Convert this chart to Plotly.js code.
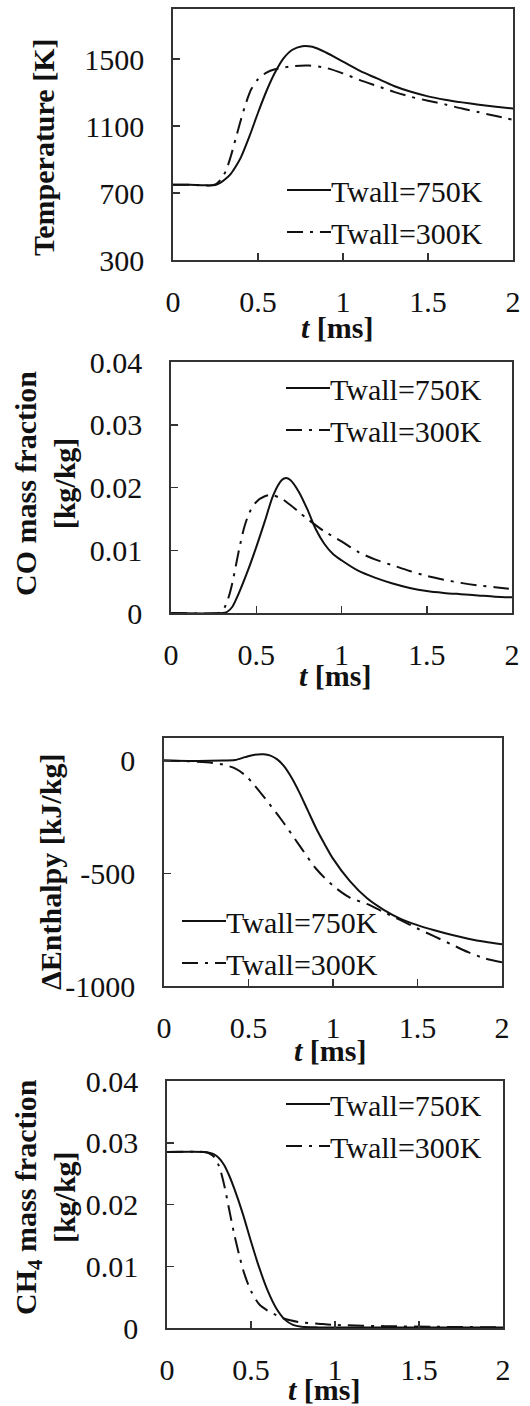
<!DOCTYPE html>
<html>
<head>
<meta charset="utf-8">
<script src="https://cdn.plot.ly/plotly-3.0.1.min.js"></script>
<style>html,body{margin:0;padding:0;background:#fff;}#chart{width:530px;height:1406px;}</style>
</head>
<body>
<div id="chart"></div>
<script>
// ---------- data ----------
const seriesNames = ["Twall=750K", "Twall=300K"];
const xTickVals = [0, 0.5, 1, 1.5, 2];

// Panel 1: Temperature [K]
const tTemp750 = [0,0.1,0.2,0.25,0.28,0.31,0.34,0.37,0.40,0.45,0.5,0.55,0.6,0.65,0.7,0.76,0.82,0.9,1.0,1.1,1.2,1.3,1.4,1.5,1.6,1.7,1.8,1.9,2.0];
const temp750  = [750,750,746,748,762,785,815,860,915,1040,1180,1310,1420,1505,1555,1578,1574,1540,1485,1430,1385,1340,1305,1278,1258,1242,1228,1216,1205];
const tTemp300 = [0,0.1,0.2,0.25,0.28,0.31,0.34,0.37,0.4,0.43,0.46,0.5,0.55,0.6,0.7,0.8,0.9,1.0,1.1,1.2,1.3,1.4,1.5,1.6,1.7,1.8,1.9,2.0];
const temp300  = [750,750,745,752,780,830,920,1030,1140,1240,1320,1380,1420,1440,1458,1462,1448,1415,1375,1340,1305,1275,1252,1230,1205,1183,1160,1138];
const tempTicks = [300, 700, 1100, 1500];
const tempTickText = ["300", "700", "1100", "1500"];

// Panel 2: CO mass fraction [kg/kg]
const tCO750 = [0,0.3,0.33,0.36,0.4,0.45,0.5,0.55,0.6,0.65,0.675,0.7,0.75,0.8,0.85,0.9,0.95,1.0,1.1,1.2,1.3,1.4,1.5,1.6,1.7,1.8,1.9,2.0];
const co750  = [0,0,0.0002,0.001,0.0033,0.0067,0.0105,0.0146,0.0188,0.0212,0.0215,0.0212,0.0193,0.0165,0.0133,0.0110,0.0094,0.0084,0.0067,0.0056,0.0047,0.0040,0.0035,0.0032,0.0030,0.0028,0.0026,0.0025];
const tCO300 = [0,0.28,0.3,0.32,0.34,0.36,0.38,0.4,0.43,0.46,0.5,0.55,0.59,0.65,0.7,0.75,0.8,0.9,1.0,1.1,1.2,1.3,1.4,1.5,1.6,1.7,1.8,1.9,2.0];
const co300  = [0,0,0.0002,0.0012,0.0027,0.0048,0.0075,0.0102,0.0137,0.0160,0.0177,0.0186,0.0188,0.0182,0.0172,0.0161,0.0150,0.0130,0.0114,0.0097,0.0085,0.0076,0.0067,0.0059,0.0053,0.0048,0.0044,0.0041,0.0038];
const fracTicks = [0, 0.01, 0.02, 0.03, 0.04];
const fracTickText = ["0", "0.01", "0.02", "0.03", "0.04"];

// Panel 3: ΔEnthalpy [kJ/kg]
const tH750 = [0,0.2,0.35,0.42,0.48,0.53,0.59,0.63,0.67,0.71,0.75,0.8,0.85,0.9,0.95,1.0,1.1,1.2,1.3,1.4,1.5,1.6,1.7,1.8,1.9,2.0];
const h750  = [0,-2,0,2,15,25,28,22,5,-25,-70,-140,-220,-300,-370,-435,-535,-610,-662,-702,-730,-753,-773,-790,-804,-815];
const tH300 = [0,0.15,0.25,0.35,0.42,0.48,0.53,0.6,0.7,0.8,0.9,1.0,1.1,1.2,1.3,1.4,1.5,1.6,1.7,1.8,1.9,2.0];
const h300  = [0,-3,-8,-18,-35,-65,-105,-170,-268,-375,-480,-555,-608,-636,-672,-708,-745,-780,-815,-850,-878,-895];
const hTicks = [-1000, -500, 0];
const hTickText = ["-1000", "-500", "0"];

// Panel 4: CH4 mass fraction [kg/kg]
const tCH750 = [0,0.22,0.25,0.28,0.31,0.34,0.37,0.4,0.45,0.5,0.55,0.6,0.65,0.7,0.75,0.8,0.9,1.0,1.5,2.0];
const ch750  = [0.0285,0.0285,0.0284,0.0281,0.0275,0.0264,0.0247,0.0226,0.0186,0.0140,0.0097,0.0060,0.0032,0.0014,0.0005,0.0002,0.0001,0.0001,0.0001,0.0001];
const tCH300 = [0,0.22,0.25,0.28,0.31,0.34,0.37,0.4,0.43,0.46,0.5,0.55,0.6,0.65,0.7,0.8,0.9,1.0,1.3,1.6,2.0];
const ch300  = [0.0285,0.0285,0.0283,0.0277,0.0262,0.0232,0.0192,0.0152,0.0118,0.0088,0.0060,0.0038,0.0028,0.0021,0.0015,0.0009,0.0007,0.0005,0.0003,0.0002,0.0001];

// ---------- styling / layout ----------
const W = 530, H = 1406;
const FONT = "Liberation Serif";
const INK = "#111111";
const AXC = "#333333";
const DASHDOT = "16px,7px,3px,7px";

function xd(a, b) { return [a / W, b / W]; }
function yd(top, bottom) { return [1 - bottom / H, 1 - top / H]; }

const panels = [
  {box: [173, 513, 9, 260],   yr: [300, 1800],  yt: tempTicks, ytt: tempTickText, data: [[tTemp750, temp750], [tTemp300, temp300]], leg: [281, 164]},
  {box: [171, 512, 362, 613], yr: [0, 0.04],    yt: fracTicks, ytt: fracTickText, data: [[tCO750, co750], [tCO300, co300]],       leg: [280, 362]},
  {box: [164, 502, 738, 986], yr: [-1000, 100], yt: hTicks,    ytt: hTickText,    data: [[tH750, h750], [tH300, h300]],           leg: [176, 895]},
  {box: [167, 503, 1081, 1328], yr: [0, 0.04],  yt: fracTicks, ytt: fracTickText, data: [[tCH750, ch750], [tCH300, ch300]],       leg: [280, 1078]}
];

const traces = [];
const layout = {
  width: W, height: H,
  margin: {l: 0, r: 0, t: 0, b: 0},
  paper_bgcolor: "#ffffff",
  plot_bgcolor: "#ffffff",
  font: {family: FONT, size: 30, color: INK},
  showlegend: true,
  annotations: []
};

panels.forEach((p, i) => {
  const n = i === 0 ? "" : String(i + 1);
  const xa = "xaxis" + n, ya = "yaxis" + n, lg = "legend" + n;
  const axCommon = {
    showline: true, mirror: true, linecolor: AXC, linewidth: 1.8,
    ticks: "inside", ticklen: 7, tickwidth: 1.5, tickcolor: AXC,
    showgrid: false, zeroline: false, fixedrange: true,
    tickfont: {family: FONT, size: 30, color: INK}
  };
  layout[xa] = Object.assign({}, axCommon, {
    domain: xd(p.box[0], p.box[1]), range: [0, 2],
    tickmode: "array", tickvals: xTickVals,
    anchor: "y" + n, ticklabelstandoff: 14
  });
  layout[ya] = Object.assign({}, axCommon, {
    domain: yd(p.box[2], p.box[3]), range: p.yr,
    tickmode: "array", tickvals: p.yt, ticktext: p.ytt,
    anchor: "x" + n, ticklabelstandoff: 21
  });
  layout[lg] = {
    x: p.leg[0] / W, y: 1 - p.leg[1] / H, xanchor: "left", yanchor: "top",
    bgcolor: "rgba(0,0,0,0)", borderwidth: 0, itemwidth: 40,
    font: {family: FONT, size: 30, color: INK}, tracegroupgap: 0
  };
  p.data.forEach((d, k) => {
    traces.push({
      type: "scatter", mode: "lines",
      x: d[0], y: d[1],
      xaxis: "x" + n, yaxis: "y" + n,
      name: seriesNames[k], legend: lg,
      line: {color: INK, width: 2, dash: k === 0 ? "solid" : DASHDOT, shape: "spline", smoothing: 0.8},
      hoverinfo: "skip"
    });
  });
});

// axis titles
const xTitlePos = [[337, 327], [335, 675], [330, 1050], [324, 1389]];
xTitlePos.forEach(pos => {
  layout.annotations.push({
    xref: "paper", yref: "paper", x: pos[0] / W, y: 1 - pos[1] / H,
    xanchor: "center", yanchor: "middle", showarrow: false,
    text: "<b><i>t</i> [ms]</b>", font: {family: FONT, size: 30, color: INK}
  });
});
const yTitles = [
  {text: "<b>Temperature [K]</b>", x: 43, y: 148},
  {text: "<b>CO mass fraction<br>[kg/kg]</b>", x: 45, y: 484},
  {text: "<b>ΔEnthalpy [kJ/kg]</b>", x: 50, y: 872},
  {text: "<b>CH<sub>4</sub> mass fraction<br>[kg/kg]</b>", x: 45, y: 1197}
];
yTitles.forEach(a => {
  layout.annotations.push({
    xref: "paper", yref: "paper", x: a.x / W, y: 1 - a.y / H,
    xanchor: "center", yanchor: "middle", showarrow: false, textangle: -90,
    text: a.text, font: {family: FONT, size: 30, color: INK}
  });
});

Plotly.newPlot("chart", traces, layout, {displayModeBar: false, staticPlot: true}).then(gd => {
  // lengthen the legend line samples to match the reference (about 42px long)
  gd.querySelectorAll(".legendlines path").forEach(el => el.setAttribute("d", "M6,0h44"));
});
</script>
</body>
</html>
